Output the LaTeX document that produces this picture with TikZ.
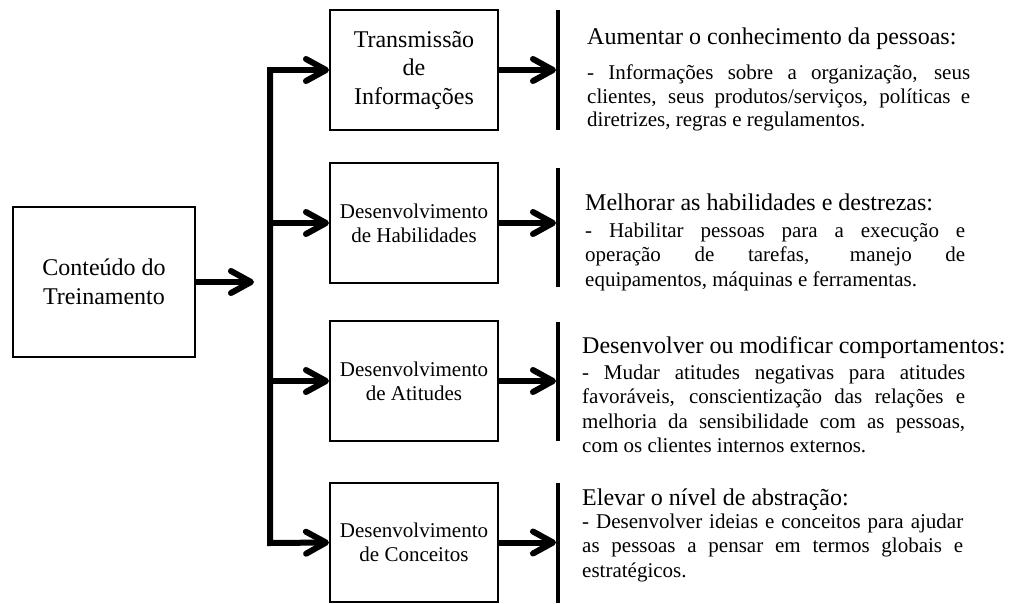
\documentclass[tikz,border=0pt]{standalone}
\usepackage{fontspec}
\setmainfont{Liberation Serif}
\usetikzlibrary{arrows.meta}

\begin{document}
\begin{tikzpicture}[x=1pt,y=-1pt,
  box/.style={draw,line width=2pt,minimum width=168pt,minimum height=120pt,inner sep=0pt,align=center},
  bigtext/.style={font=\fontsize{24}{28.5}\selectfont},
  smalltext/.style={font=\fontsize{21}{24}\selectfont},
  flow/.style={line width=6pt,-{Straight Barb[length=20pt,width=22pt,round]}},
  bar/.style={line width=4pt},
  head/.style={anchor=base west,inner sep=0pt,font=\fontsize{24}{28}\selectfont},
  body/.style={anchor=base west,inner sep=0pt,text width=381pt,align=justify,
    execute at begin node={\tolerance=10000\hbadness=10000\hyphenpenalty=10000\relax}}]
\useasboundingbox (0,0) rectangle (1010,603);

% training content (root) and the four kinds of content
\node[box,bigtext,minimum width=182pt,minimum height=150pt] (root) at (104,282) {Conteúdo do\\Treinamento};
\node[box,bigtext] (b1) at (414,70) {Transmissão\\de\\Informações};
\node[box,smalltext] (b2) at (414,223) {Desenvolvimento\\de Habilidades};
\node[box,smalltext] (b3) at (414,381) {Desenvolvimento\\de Atitudes};
\node[box,smalltext,minimum height=119pt] (b4) at (414,542.5) {Desenvolvimento\\de Conceitos};

% distribution bus
\coordinate (hub) at (254,282);
\coordinate (top) at (270,70);
\coordinate (bot) at (270,543);
\draw[flow] (root.east) -- (hub);
\draw[flow] (bot) -- (top) -- (b1.west);
\draw[flow] (top) -- (bot) -- (b4.west);
\draw[flow] (top |- b2.west) -- (b2.west);
\draw[flow] (top |- b3.west) -- (b3.west);

% vertical bars in front of each description
\draw[bar] (558,10) -- (558,130);
\draw[bar] (558,168) -- (558,287);
\draw[bar] (558,322) -- (558,441);
\draw[bar] (558,483) -- (558,603);
\coordinate (t1) at (556,70);
\coordinate (t2) at (556,223);
\coordinate (t3) at (556,381);
\coordinate (t4) at (556,542.5);
\draw[flow] (b1.east) -- (t1);
\draw[flow] (b2.east) -- (t2);
\draw[flow] (b3.east) -- (t3);
\draw[flow] (b4.east) -- (t4);

% descriptions
\node[head] (h1) at (587,44.5) {Aumentar o conhecimento da pessoas:};
\node[body,text width=383pt,font=\fontsize{21}{23.6}\selectfont] (d1) at (587,79.5)
  {- Informações sobre a organização, seus\linebreak clientes, seus produtos/serviços, políticas e\linebreak diretrizes, regras e regulamentos.};

\node[head] (h2) at (585,210) {Melhorar as habilidades e destrezas:};
\node[body,text width=380pt,font=\fontsize{21}{24.5}\selectfont] (d2) at (585,237)
  {- Habilitar pessoas para a execução e\linebreak operação de tarefas, manejo de\linebreak equipamentos, máquinas e ferramentas.};

\node[head] (h3) at (582,353) {Desenvolver ou modificar comportamentos:};
\node[body,text width=383pt,font=\fontsize{21}{24.6}\selectfont] (d3) at (582,379)
  {- Mudar atitudes negativas para atitudes\linebreak favoráveis, conscientização das relações e\linebreak melhoria da sensibilidade com as pessoas,\linebreak com os clientes internos externos.};

\node[head] (h4) at (582,505) {Elevar o nível de abstração:};
\node[body,text width=381pt,font=\fontsize{21}{24.5}\selectfont] (d4) at (582,528)
  {- Desenvolver ideias e conceitos para ajudar\linebreak as pessoas a pensar em termos globais e\linebreak estratégicos.};
\end{tikzpicture}
\end{document}
